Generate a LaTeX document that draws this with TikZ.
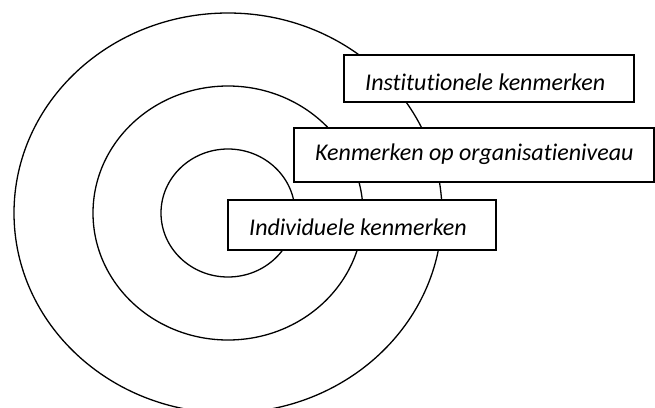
\documentclass[tikz,border=0pt]{standalone}
\usepackage{fontspec}
\setmainfont{Carlito}[Ligatures=NoCommon]
\tikzset{
  ring/.style={line width=1.3pt},
  kader/.style={draw, line width=1.8pt, fill=white, anchor=north west, inner sep=0pt},
  tekst/.style={anchor=west, inner sep=0pt, font=\itshape\fontsize{24}{28}\selectfont}
}
\begin{document}
\begin{tikzpicture}[x=1pt,y=-1pt]
	\useasboundingbox (0,0) rectangle (655,407);
	
	% Concentric rings
	\coordinate (M) at (228,213); % common centre
	\draw[ring] (M) ellipse (214pt and 200pt); % outer ring
	\draw[ring] (M) ellipse (135pt and 127pt); % middle ring
	\draw[ring] (M) ellipse (67pt and 64pt); % inner ring
	
	% Boxes with their labels
	\node[kader, minimum width=290pt, minimum height=47pt] (inst) at (343,54) {};
	\node[tekst] (instT) at ([xshift=22pt,yshift=-4pt]inst.west) {Institutionele kenmerken};
	
	\node[kader, minimum width=360pt, minimum height=54pt] (org) at (293,127) {};
	\node[tekst] (orgT) at ([xshift=22pt,yshift=1pt]org.west) {Kenmerken op organisatieniveau};
	
	\node[kader, minimum width=268pt, minimum height=50pt] (indiv) at (227,199) {};
	\node[tekst] (indivT) at ([xshift=22pt,yshift=-2pt]indiv.west) {Individuele kenmerken};
\end{tikzpicture}
\end{document}
